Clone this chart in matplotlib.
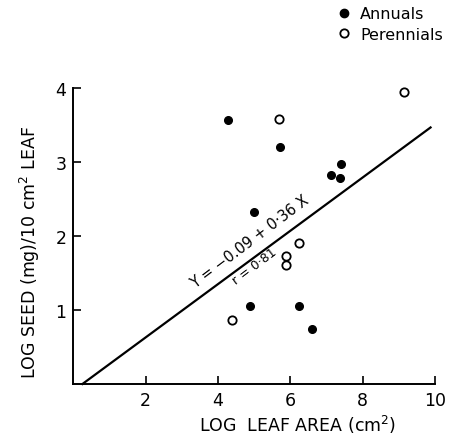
#!/usr/bin/env python3
"""Log seed weight per leaf area vs log leaf area, annuals vs perennials."""

import matplotlib
matplotlib.use('Agg')
import matplotlib.pyplot as plt
from matplotlib.lines import Line2D
import numpy as np

# Annuals (filled)
annual_x = [4.28, 5.72, 5.00, 4.89, 6.24, 6.61, 7.12, 7.37, 7.39]
annual_y = [3.57, 3.20, 2.32, 1.06, 1.05, 0.75, 2.83, 2.78, 2.97]

# Perennials (open)
perennial_x = [5.70, 9.15, 4.40, 6.25, 5.88, 5.88]
perennial_y = [3.58, 3.95, 0.86, 1.91, 1.73, 1.61]

# Regression Y = -0.09 + 0.36 X
intercept = -0.09
slope = 0.36
fit_x = [0.25, 9.88]

x_ticks = [2, 4, 6, 8, 10]
y_ticks = [1, 2, 3, 4]

W, H = 455, 439
fig = plt.figure(figsize=(W / 100, H / 100), dpi=100)
ax = fig.add_axes([73.4 / W, (H - 385) / H, 361.5 / W, 296 / H])

fx = np.array(fit_x)
ax.plot(fx, intercept + slope * fx, color='black', linewidth=1.6, clip_on=False)

ax.plot(annual_x, annual_y, 'o', color='black', markersize=5.5,
        linestyle='none', clip_on=False)
ax.plot(perennial_x, perennial_y, 'o', markerfacecolor='white',
        markeredgecolor='black', markeredgewidth=1.3, markersize=6,
        linestyle='none', clip_on=False)

ax.set_xlim(0, 10)
ax.set_ylim(0, 4)
ax.set_xticks(x_ticks)
ax.set_yticks(y_ticks)
ax.tick_params(direction='in', length=6, width=1.2, labelsize=12.5, pad=5)
for s in ['top', 'right']:
    ax.spines[s].set_visible(False)
for s in ['left', 'bottom']:
    ax.spines[s].set_linewidth(1.4)

ax.text(4.89, 1.93, 'Y = \u22120.09 + 0\u00b736 X', rotation=37, fontsize=10.5,
        ha='center', va='center', rotation_mode='anchor')
ax.text(5.02, 1.60, 'r = 0\u00b781', rotation=37, fontsize=9,
        ha='center', va='center', rotation_mode='anchor')

fig.text(298 / W, 1 - 425 / H, 'LOG  LEAF AREA (cm$^2$)', fontsize=12.5,
         ha='center', va='center')
fig.text(30 / W, 1 - 252 / H, 'LOG SEED (mg)/10 cm$^2$ LEAF', fontsize=12.5,
         ha='center', va='center', rotation=90)

handles = [
    Line2D([], [], marker='o', color='black', linestyle='none', markersize=6),
    Line2D([], [], marker='o', markerfacecolor='white', markeredgecolor='black',
           markeredgewidth=1.3, linestyle='none', markersize=6),
]
fig.legend(handles, ['Annuals', 'Perennials'], loc='upper left',
           bbox_to_anchor=(328 / W, 1 - 1 / H), frameon=False, fontsize=11.5,
           handletextpad=0.4, labelspacing=0.35, handlelength=1.2,
           borderaxespad=0)

fig.savefig('out.png', dpi=100)
